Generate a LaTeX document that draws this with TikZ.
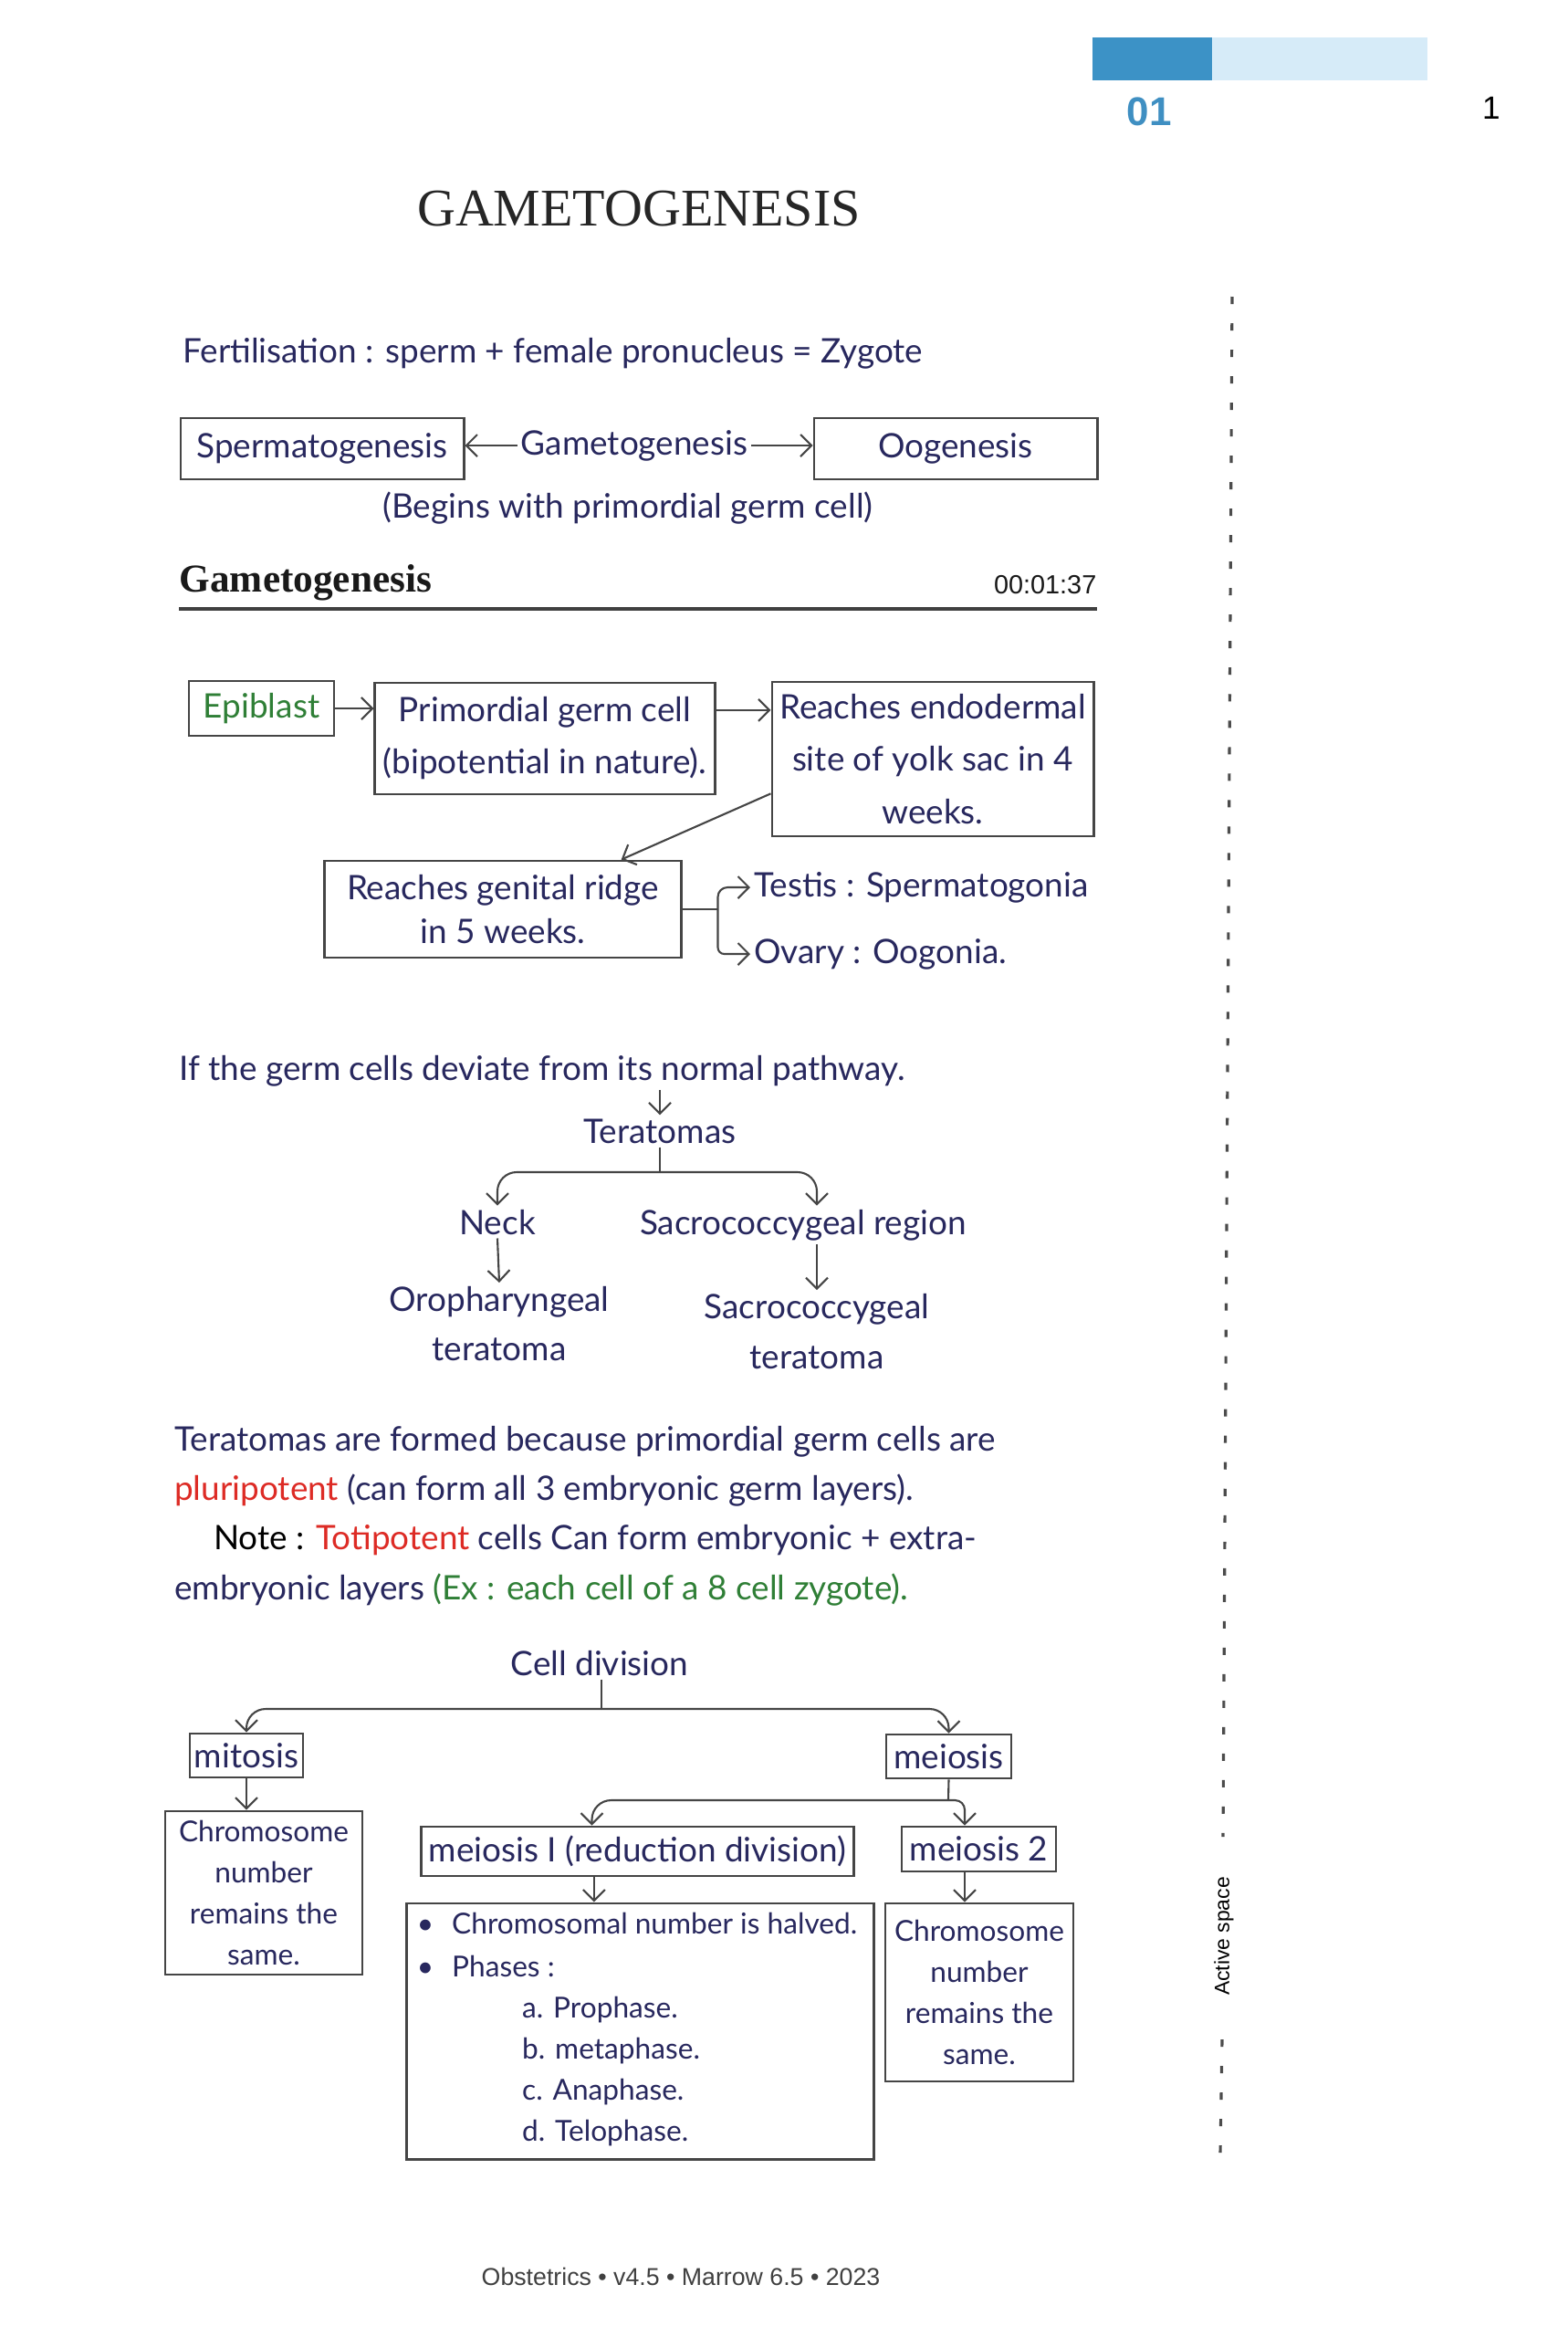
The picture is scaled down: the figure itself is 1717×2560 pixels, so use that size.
\documentclass[tikz,border=0pt]{standalone}
\usepackage{fontspec}
\setmainfont{Liberation Serif}
\newfontfamily\hand{Lato}
\newfontfamily\arsans{Liberation Sans}
\usetikzlibrary{arrows.meta,calc}
\definecolor{ink}{HTML}{28285E}
\definecolor{inkgreen}{HTML}{2F7F36}
\definecolor{inkred}{HTML}{DD2B25}
\definecolor{linegray}{HTML}{454545}
\definecolor{barblue}{HTML}{3C92C6}
\definecolor{barlight}{HTML}{D6EBF8}
\definecolor{numblue}{HTML}{3F8FC2}
\begin{document}
\begin{tikzpicture}[x=0.01cm,y=-0.01cm,
  hw/.style={font=\hand\fontsize{10.5}{13}\selectfont, text=ink, inner sep=1pt},
  hws/.style={font=\hand\fontsize{9}{12.8}\selectfont, text=ink, inner sep=1pt},
  box/.style={draw=linegray, line width=0.8pt, inner sep=0pt, align=center},
  arr/.style={draw=linegray, line width=0.6pt, -{Straight Barb[length=1.2mm,width=2.4mm]}},
  conn/.style={draw=linegray, line width=0.6pt},
]
\useasboundingbox (0,0) rectangle (1717,2560);
\fill[white] (0,0) rectangle (1717,2560);

% header
\fill[barblue] (1197,41) rectangle (1328,88);
\fill[barlight] (1328,41) rectangle (1564,88);
\node[font=\arsans\bfseries\fontsize{12.5}{14}\selectfont, text=numblue] (chap) at (1259,122) {01};
\node[font=\arsans\fontsize{10}{12}\selectfont] (pg) at (1634,118) {1};
\node[font=\fontsize{16.5}{18}\selectfont, text=black!85] (title) at (700,229) {GAMETOGENESIS};

% fertilisation
\node[hw, anchor=base west] (fert) at (196,397) {Fertilisation : sperm + female pronucleus = Zygote};
\node[hw, box, minimum width=3.10cm, minimum height=0.67cm] (sperm) at (353,491.5) {Spermatogenesis};
\node[hw, box, minimum width=3.10cm, minimum height=0.67cm] (oog) at (1047,491.5) {Oogenesis};
\node[hw] (gam) at (695,488) {Gametogenesis};
\draw[arr] (gam.west) -- (gam.west -| sperm.east);
\draw[arr] (gam.east) -- (gam.east -| oog.west);
\node[hw] (begins) at (688,557) {(Begins with primordial germ cell)};

% heading
\node[anchor=base west, inner sep=0pt, font=\bfseries\fontsize{12.3}{14}\selectfont, text=black!90] (head) at (196,648) {Gametogenesis};
\node[anchor=base east, inner sep=0pt, font=\arsans\fontsize{8.2}{10}\selectfont, text=black!90] (time) at (1202,650) {00:01:37};
\draw[line width=0.9pt, black!75] (196,667) -- (1202,667);

% flow
\node[hw, box, text=inkgreen, minimum width=1.59cm, minimum height=0.60cm] (epi) at (286.5,776) {Epiblast};
\node[hw, box, font=\hand\fontsize{10.5}{16.2}\selectfont, minimum width=3.72cm, minimum height=1.22cm] (pgc) at (597,809) {Primordial germ cell\\(bipotential in nature).};
\node[hw, box, font=\hand\fontsize{10.5}{16.4}\selectfont, minimum width=3.52cm, minimum height=1.69cm] (reach) at (1022,831.5) {Reaches endodermal\\site of yolk sac in 4\\weeks.};
\node[hw, box, font=\hand\fontsize{10.5}{13.6}\selectfont, minimum width=3.90cm, minimum height=1.06cm] (gen) at (551,996) {Reaches genital ridge\\in 5 weeks.};
\node[hw, anchor=west] (testis) at (822,972) {Testis : Spermatogonia};
\node[hw, anchor=west] (ovary) at (822,1045) {Ovary : Oogonia.};

\draw[arr] (epi.east) -- (epi.east -| pgc.west);
\coordinate (a1) at ($(pgc.north east)!0.25!(pgc.south east)$);
\draw[arr] (a1) -- (a1 -| reach.west);
\coordinate (d1) at ($(reach.north west)!0.72!(reach.south west)$);
\coordinate (d2) at ($(gen.north west)!0.83!(gen.north east)$);
\draw[arr] (d1) -- (d2);
\draw[conn] (gen.east) -- ++(39,0) coordinate (gb);
\draw[arr, rounded corners=3pt] (gb) |- (testis.west);
\draw[arr, rounded corners=2pt] (gb) |- (ovary.west);

% teratomas
\node[hw, anchor=base west] (dev) at (192,1183) {If the germ cells deviate from its normal pathway.};
\node[hw, anchor=base] (tera) at (723,1252) {Teratomas};
\draw[arr] (tera.north |- dev.south) -- (tera.north);
\coordinate (tb) at (723,1284);
\node[hw, anchor=base] (neck) at (545,1352) {Neck};
\node[hw, anchor=base] (sacro) at (880,1352) {Sacrococcygeal region};
\node[hw, anchor=north, align=center, font=\hand\fontsize{10.5}{15.3}\selectfont] (oro) at (547,1405) {Oropharyngeal\\teratoma};
\node[hw, anchor=north, align=center, font=\hand\fontsize{10.5}{15.6}\selectfont] (sct) at (895,1413) {Sacrococcygeal\\teratoma};
\draw[conn] (tera.south) -- (tb);
\draw[arr, rounded corners=6pt] (tb) -| (neck.north);
\draw[arr, rounded corners=6pt] (tb) -| (sct.north |- sacro.north);
\draw[arr] (neck.south) -- (oro.north);
\draw[arr] (sct.north |- sacro.south) -- (sct.north);

% paragraph
\node[hw, anchor=base west] (p1) at (187,1589) {Teratomas are formed because primordial germ cells are};
\node[hw, anchor=base west] (p2) at (187,1643) {\textcolor{inkred}{pluripotent} (can form all 3 embryonic germ layers).};
\node[hw, anchor=base west] (p3) at (230,1697) {\textcolor{black}{Note :} \textcolor{inkred}{Totipotent} cells Can form embryonic + extra-};
\node[hw, anchor=base west] (p4) at (187,1752) {embryonic layers \textcolor{inkgreen}{(Ex : each cell of a 8 cell zygote).}};

% cell division
\node[hw, anchor=base] (cd) at (657,1835) {Cell division};
\coordinate (cb) at (659,1872);
\node[hw, box, minimum width=1.24cm, minimum height=0.48cm] (mit) at (270,1923) {mitosis};
\node[hw, box, minimum width=1.37cm, minimum height=0.48cm] (mei) at (1039.5,1924) {meiosis};
\node[hws, box, minimum width=2.16cm, minimum height=1.79cm] (chl) at (289,2073.5) {Chromosome\\number\\remains the\\same.};
\node[hw, box, minimum width=4.73cm, minimum height=0.54cm] (m1) at (698.5,2028) {meiosis I (reduction division)};
\node[hw, box, minimum width=1.69cm, minimum height=0.49cm] (m2) at (1072.5,2025.5) {meiosis 2};
\node[box, minimum width=5.11cm, minimum height=2.80cm] (lst) at (701.5,2225) {};
\node[hws, box, minimum width=2.06cm, minimum height=1.95cm] (chr) at (1073,2182.5) {Chromosome\\number\\remains the\\same.};

\draw[conn] (cd.south -| cb) -- (cb);
\draw[arr, rounded corners=6pt] (cb) -| (mit.north);
\draw[arr, rounded corners=6pt] (cb) -| (mei.north);
\draw[arr] (mit.south) -- (mit.south |- chl.north);
\coordinate (mb) at (1039,1972);
\draw[conn] (mei.south) -- (mb);
\coordinate (m1in) at ($(m1.north west)!0.395!(m1.north east)$);
\coordinate (m2in) at ($(m2.north west)!0.41!(m2.north east)$);
\draw[arr, rounded corners=6pt] (mb) -| (m1in);
\draw[arr, rounded corners=3pt] (mb) -| (m2in);
\coordinate (m1out) at ($(m1.south west)!0.40!(m1.south east)$);
\draw[arr] (m1out) -- (m1out |- lst.north);
\draw[arr] (m2in |- m2.south) -- (m2in |- chr.north);

\node[hws, anchor=base] (b1) at (466,2118) {\textbullet};
\node[hws, anchor=base west] (l1) at (491,2118) {Chromosomal number is halved.};
\node[hws, anchor=base] (b2) at (466,2165) {\textbullet};
\node[hws, anchor=base west] (l2) at (491,2165) {Phases :};
\node[hws, anchor=base west] (la) at (568,2210) {a. Prophase.};
\node[hws, anchor=base west] (lb) at (568,2255) {b. metaphase.};
\node[hws, anchor=base west] (lc) at (568,2300) {c. Anaphase.};
\node[hws, anchor=base west] (ld) at (568,2345) {d. Telophase.};

% margin
\draw[line width=0.9pt, black!70, dash pattern=on 0.8mm off 2.1mm] (1350,325) -- (1340,2012);
\draw[line width=0.9pt, black!70, dash pattern=on 0.8mm off 2.1mm] (1339,2234) -- (1337,2360);
\node[rotate=90, font=\arsans\fontsize{6.5}{8}\selectfont] (act) at (1341,2121) {Active space};

% footer
\node[font=\arsans\fontsize{7.6}{9}\selectfont, text=black!75] (foot) at (746,2494) {Obstetrics • v4.5 • Marrow 6.5 • 2023};
\end{tikzpicture}
\end{document}
